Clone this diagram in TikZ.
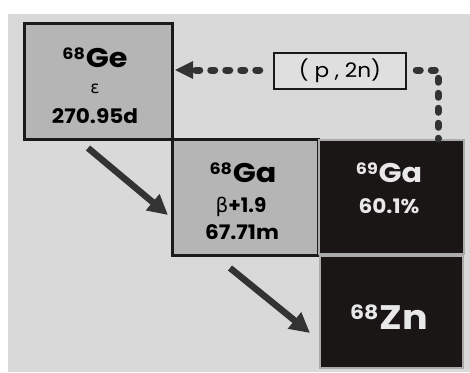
\documentclass[tikz,border=0pt]{standalone}
\usepackage{fontspec}
\setmainfont{Poppins}
\newfontfamily\grk{DejaVu Sans}
\newfontfamily\hfont[FakeStretch=1.12]{Poppins}
\newfontfamily\nfont[FakeStretch=1.08]{Poppins}
\usetikzlibrary{arrows.meta}
\definecolor{bgc}{HTML}{D9D9D9}
\definecolor{boxg}{HTML}{B5B5B5}
\definecolor{boxk}{HTML}{1A1616}
\definecolor{edgek}{HTML}{1A1A1A}
\definecolor{edgeg}{HTML}{ABABAB}
\definecolor{arr}{HTML}{333333}
\definecolor{txtw}{HTML}{E8E8E8}
% #1 mass number, #2 symbol, #3 size
\newcommand{\iso}[3]{{\hfont\bfseries\fontsize{#3}{#3}\selectfont\raisebox{0.28em}{\fontsize{0.58em}{0.58em}\selectfont #1}\kern0.03em #2}}
\tikzset{
  greybox/.style={draw=edgek, line width=3pt, fill=boxg, inner sep=0pt},
  blackbox/.style={draw=edgeg, line width=2pt, fill=boxk, inner sep=0pt},
  txt/.style={inner sep=0pt, text=black},
  wtxt/.style={inner sep=0pt, text=txtw},
  num/.style={font=\nfont\bfseries\fontsize{20pt}{20pt}\selectfont},
  decay/.style={draw=arr, line width=6.5pt, -{Triangle[length=20pt,width=20pt]}},
  dots/.style={draw=arr, line width=7pt, line cap=round, dash pattern=on 4pt off 11pt}
}
\begin{document}
\begin{tikzpicture}[x=1pt,y=-1pt]
\useasboundingbox (0,0) rectangle (470,372);
\fill[bgc] (8,14) rectangle (470,372);
% boxes
\node[greybox, minimum width=148pt, minimum height=116pt] (ge) at (98,81) {};
\node[greybox, minimum width=146pt, minimum height=116pt] (ga68) at (245,197) {};
\node[blackbox, minimum width=145pt, minimum height=114pt] (ga69) at (391,197) {};
\node[blackbox, minimum width=143pt, minimum height=112pt] (zn) at (391.5,312) {};
% texts
\node[txt] (get) at (95,58) {\iso{68}{Ge}{27pt}};
\node[txt, font=\grk\fontsize{17pt}{17pt}\selectfont] (gee) at (95,89) {ε};
\node[txt, num] (geh) at (95,116) {270.95d};
\node[txt] (gat) at (243,173) {\iso{68}{Ga}{27pt}};
\node[txt, font=\fontsize{20pt}{20pt}\selectfont] (gab) at (241,207) {{\grk β}\textbf{+1.9}};
\node[txt, num] (gah) at (242,232) {67.71m};
\node[wtxt] (g9t) at (389,173) {\iso{69}{Ga}{27pt}};
\node[wtxt, num] (g9p) at (389,206) {60.1\%};
\node[wtxt] (znt) at (389,317) {\iso{68}{Zn}{34pt}};
% reaction box
\node[draw=edgek, line width=2.5pt, fill=bgc!85!white, minimum width=132pt, minimum height=36pt, inner sep=0pt, font=\nfont\fontsize{20pt}{20pt}\selectfont] (pr) at (340,71) {( p , 2n)};
% arrows
\coordinate (a1s) at (88,148);
\coordinate (a1e) at (168,215);
\coordinate (a2s) at (230,268);
\coordinate (a2e) at (310,333);
\draw[decay] (a1s) -- (a1e);
\draw[decay] (a2s) -- (a2e);
\coordinate (corner) at (438,70);
\draw[dots, shorten <=9pt] (pr.east |- corner) -- (corner) -- (corner |- ga69.north);
\draw[dots, shorten <=13pt, shorten >=16pt] (pr.west |- corner) -- (ge.east |- corner);
\fill[arr] (175,70) -- (193,61) -- (193,79) -- cycle;
\end{tikzpicture}
\end{document}
